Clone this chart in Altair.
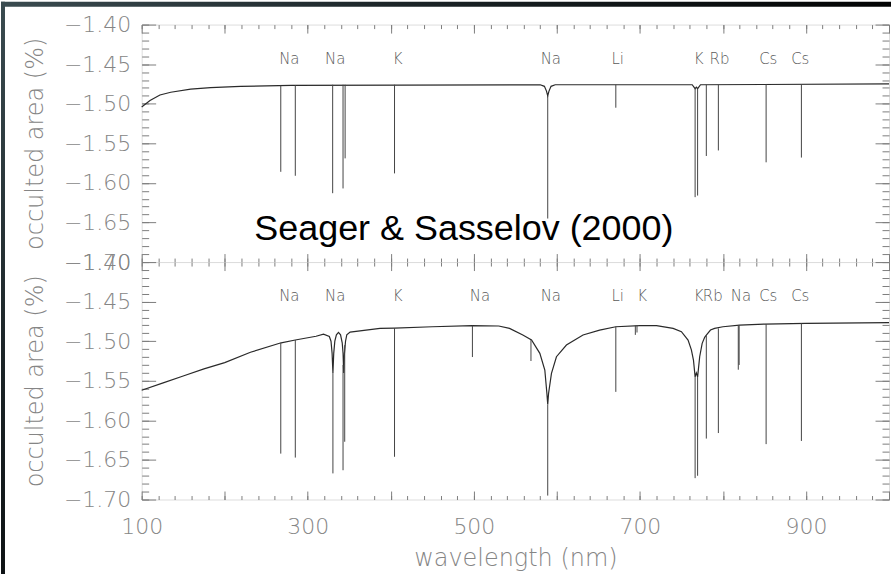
import altair as alt
import pandas as pd

# ---------------- values ----------------
# upper panel: continuum of the model (wavelength nm, occulted area %)
top_cont_wl = [100, 110, 122, 135, 159, 183, 219, 280, 580, 585, 587.5, 589, 590.5, 593, 598,
               763, 766.5, 768, 769.5, 773, 1000]
top_cont_val = [-1.504, -1.496, -1.489, -1.4855, -1.4815, -1.4797, -1.478, -1.4768, -1.476, -1.478,
                -1.484, -1.49, -1.484, -1.478, -1.476, -1.476, -1.481, -1.479, -1.481, -1.476, -1.475]
# upper panel: narrow absorption lines (top of line, bottom of line)
top_line_wl = [267.5, 285, 330, 342.5, 345, 404.5, 589, 671, 766.5, 769.5, 780, 794.5, 852, 894.5]
top_line_top = [-1.477, -1.4765, -1.476, -1.476, -1.476, -1.476, -1.49, -1.476, -1.481, -1.481,
                -1.476, -1.476, -1.4755, -1.4755]
top_line_bot = [-1.586, -1.591, -1.613, -1.607, -1.569, -1.588, -1.645, -1.505, -1.618, -1.616,
                -1.566, -1.559, -1.574, -1.568]
top_lab_wl = [277.8, 333.1, 408.4, 592.7, 673.2, 770.8, 795.9, 854.6, 893.1]
top_lab_txt = ["Na", "Na", "K", "Na", "Li", "K", "Rb", "Cs", "Cs"]

# lower panel: continuum incl. broad wings
bot_cont_wl = [100, 125, 150, 175, 200, 231, 268, 285, 310, 319, 326, 328, 329.3, 330.3, 331.3,
               332.6, 334.5, 337, 339.5, 341.5, 342.5, 343.3, 344.2, 345.5, 347, 351, 387, 404.5,
               450, 498, 530, 543, 559, 569.5, 579.5, 585.5, 588, 589, 590, 593.5, 599.5, 611.5,
               631.5, 651.5, 671, 700, 720, 740, 750, 758, 762, 764.5, 766.5, 768, 769.5, 772,
               775, 778, 780, 785, 790, 800, 820, 850, 900, 1000]
bot_cont_val = [-1.562, -1.553, -1.544, -1.535, -1.527, -1.514, -1.502, -1.4985, -1.4937, -1.491,
                -1.494, -1.500, -1.515, -1.54, -1.515, -1.500, -1.492, -1.4889, -1.492, -1.502,
                -1.515, -1.54, -1.515, -1.500, -1.492, -1.4884, -1.4838, -1.4835, -1.4817, -1.4804,
                -1.4808, -1.4838, -1.4922, -1.4985, -1.5153, -1.5364, -1.566, -1.58, -1.566,
                -1.5406, -1.5196, -1.5048, -1.4922, -1.4859, -1.4817, -1.4804, -1.4804, -1.4838,
                -1.488, -1.4985, -1.511, -1.5238, -1.545, -1.54, -1.545, -1.5196, -1.5027,
                -1.4951, -1.4922, -1.4859, -1.4838, -1.4817, -1.4796, -1.4783, -1.4775, -1.4766]
bot_line_wl = [267.5, 285, 330.3, 342.5, 344.5, 404.5, 498.3, 568.8, 589, 671, 694.5, 696.5,
               766.5, 769.5, 780, 794.5, 818.5, 819.5, 852, 894.5]
bot_line_top = [-1.502, -1.4985, -1.54, -1.53, -1.505, -1.4835, -1.4804, -1.4985, -1.58, -1.4817,
                -1.480, -1.480, -1.545, -1.545, -1.4922, -1.4838, -1.4796, -1.4796, -1.4783, -1.4775]
bot_line_bot = [-1.642, -1.647, -1.667, -1.663, -1.627, -1.646, -1.52, -1.525, -1.695, -1.564,
                -1.492, -1.489, -1.673, -1.670, -1.623, -1.616, -1.536, -1.530, -1.630, -1.626]
bot_lab_wl = [277.8, 333.1, 408.4, 507.3, 592.7, 673.2, 702.8, 770.8, 787.7, 821.8, 854.6, 893.1]
bot_lab_txt = ["Na", "Na", "K", "Na", "Na", "Li", "K", "K", "Rb", "Na", "Cs", "Cs"]

LABEL_LEVEL = -1.4435
NOTE_TEXT = ["Seager & Sasselov (2000)"]
NOTE_WL = [488]
NOTE_VAL = [-1.672]

# axis tick values
x_major = [100, 200, 300, 400, 500, 600, 700, 800, 900, 1000]
x_minor = list(range(100, 1001, 20))
x_labels = [100, 300, 500, 700, 900]
y_major = [-1.70, -1.65, -1.60, -1.55, -1.50, -1.45, -1.40]
y_minor = [round(-1.70 + 0.01 * i, 2) for i in range(31)]

# ---------------- styling ----------------
W, H = 749, 238
GRAY = "#7d7d7d"
TXT = "#858585"
FONT = "DejaVu Sans"
LIGHT = 200
XS = alt.Scale(domain=[100, 1000], nice=False, zero=False)
YS = alt.Scale(domain=[-1.70, -1.40], nice=False, zero=False)
YMAJ, YMIN, XMAJ, XMIN = 14, 7, 8.5, 4


def tick_axis(orient, values, size):
    return alt.Axis(orient=orient, values=values, tickSize=size, offset=-size, labels=False,
                    domain=False, grid=False, title=None, tickColor=GRAY, tickWidth=1)


def y_label_axis():
    return alt.Axis(orient="left", values=y_major, ticks=False, domain=False, grid=False,
                    labelPadding=11, labelFontSize=22, labelColor=TXT, labelFont=FONT,
                    labelFontWeight=LIGHT, labelFlush=False, labelOverlap=False, format=".2f",
                    title="occulted area (%)", titleFont=FONT, titleFontSize=24,
                    titleColor=TXT, titleFontWeight=LIGHT, titleX=-106, titleY=H / 2,
                    titleAngle=270, titleBaseline="middle", titleAlign="center")


def x_label_axis():
    return alt.Axis(orient="bottom", values=x_labels, ticks=False, domain=False, grid=False,
                    labelPadding=17, labelFontSize=22, labelColor=TXT, labelFont=FONT,
                    labelFontWeight=LIGHT, labelFlush=False, labelOverlap=False, format="d",
                    title="wavelength (nm)", titleFont=FONT, titleFontSize=24,
                    titleColor=TXT, titleFontWeight=LIGHT, titleX=W / 2, titleY=66,
                    titleBaseline="alphabetic", titleAlign="center")


def panel(cont_wl, cont_val, line_wl, line_top, line_bot, lab_wl, lab_txt, bottom, extra=()):
    cont = pd.DataFrame({"wl": cont_wl, "v": cont_val})
    lines = pd.DataFrame({"wl": line_wl, "top": line_top, "bot": line_bot})
    labs = pd.DataFrame({"wl": lab_wl, "t": lab_txt, "v": [LABEL_LEVEL] * len(lab_wl)})

    l1 = alt.Chart(cont).mark_line(color="#2a2a2a", strokeWidth=1.2).encode(
        x=alt.X("wl:Q", scale=XS,
                axis=x_label_axis() if bottom else tick_axis("bottom", x_major, XMAJ)),
        y=alt.Y("v:Q", scale=YS, axis=y_label_axis()))
    l2 = alt.Chart(lines).mark_rule(color="#444444", strokeWidth=1).encode(
        x=alt.X("wl:Q", scale=XS, axis=tick_axis("top", x_major, XMAJ)),
        y=alt.Y("top:Q", scale=YS, axis=tick_axis("left", y_major, YMAJ)),
        y2="bot:Q")
    l3 = alt.Chart(labs).mark_text(font=FONT, fontSize=15, fontWeight=LIGHT, color="#5a5a5a",
                                   align="center", baseline="middle").encode(
        x=alt.X("wl:Q", scale=XS, axis=tick_axis("top", x_minor, XMIN)),
        y=alt.Y("v:Q", scale=YS, axis=tick_axis("left", y_minor, YMIN)),
        text="t:N")
    l4 = alt.Chart(cont).mark_line(opacity=0).encode(
        x=alt.X("wl:Q", scale=XS, axis=tick_axis("bottom", x_minor, XMIN)),
        y=alt.Y("v:Q", scale=YS, axis=tick_axis("right", y_major, YMAJ)))
    l5 = alt.Chart(cont).mark_line(opacity=0).encode(
        x=alt.X("wl:Q", scale=XS,
                axis=tick_axis("bottom", x_major, XMAJ) if bottom else None),
        y=alt.Y("v:Q", scale=YS, axis=tick_axis("right", y_minor, YMIN)))
    return alt.layer(*extra, l1, l2, l3, l4, l5).resolve_axis(
        x="independent", y="independent").properties(width=W, height=H)


# decorative dark frame strips of the slide (top and left edge)
grad_h = alt.Gradient(gradient="linear", x1=0, x2=1, y1=0, y2=0,
                      stops=[alt.GradientStop(color="#3a4b50", offset=0),
                             alt.GradientStop(color="#1b2427", offset=0.45),
                             alt.GradientStop(color="#020303", offset=1)])
grad_v = alt.Gradient(gradient="linear", x1=0, x2=0, y1=0, y2=1,
                      stops=[alt.GradientStop(color="#3a4b50", offset=0),
                             alt.GradientStop(color="#1c2528", offset=0.6),
                             alt.GradientStop(color="#0d1214", offset=1)])
one = alt.Data(values=[{}])
strip_top = alt.Chart(one).mark_rect(color=grad_h).encode(
    x=alt.value(-141), x2=alt.value(751), y=alt.value(-23), y2=alt.value(-18))
strip_left = alt.Chart(one).mark_rect(color=grad_v).encode(
    x=alt.value(-141), x2=alt.value(-137), y=alt.value(-23), y2=alt.value(551))

note = alt.Chart(pd.DataFrame({"wl": NOTE_WL, "v": NOTE_VAL, "t": NOTE_TEXT})).mark_text(
    font="Liberation Sans", fontSize=36, color="#000000", align="center",
    baseline="alphabetic").encode(
    x=alt.X("wl:Q", scale=XS, axis=None), y=alt.Y("v:Q", scale=YS, axis=None), text="t:N")

top = panel(top_cont_wl, top_cont_val, top_line_wl, top_line_top, top_line_bot,
            top_lab_wl, top_lab_txt, False, extra=(strip_top, strip_left))
top = alt.layer(*top.layer, note).resolve_axis(
    x="independent", y="independent").properties(width=W, height=H)
bottom = panel(bot_cont_wl, bot_cont_val, bot_line_wl, bot_line_top, bot_line_bot,
               bot_lab_wl, bot_lab_txt, True)

chart = alt.vconcat(top, bottom, spacing=0, bounds="flush").properties(
    padding={"left": 0, "top": 0, "right": 0, "bottom": 0}, background="white"
).configure_view(stroke=GRAY, strokeWidth=1).configure(font=FONT)

chart.save("out.html", embed_options={"renderer": "svg", "actions": False})
